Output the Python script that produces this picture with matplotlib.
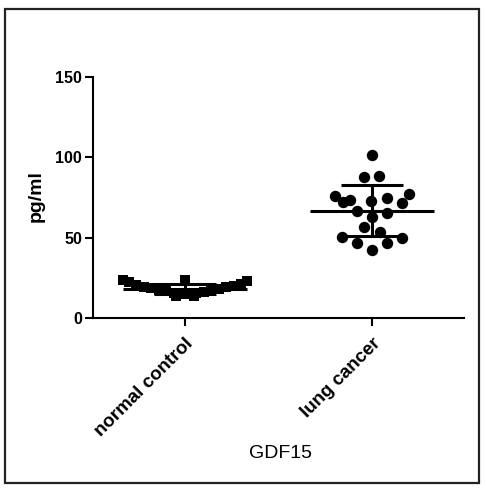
import numpy as np
import matplotlib
matplotlib.use("Agg")
import matplotlib.pyplot as plt
from matplotlib.patches import Rectangle

plt.rcParams['font.family'] = ['Liberation Sans', 'DejaVu Sans']

categories = ["normal control", "lung cancer"]
y_ticks = [0, 50, 100, 150]
y_label = "pg/ml"
x_label = "GDF15"

# normal control values (pg/ml) and horizontal jitter
nc_values = [23.5, 22.5, 20.5, 19.5, 18.5, 17.5, 16.5, 15.5, 15.0, 15.0,
             15.5, 16.0, 17.0, 18.0, 19.0, 20.0, 21.0, 23.0, 23.5, 14.0, 14.0]
nc_jitter = [-0.33, -0.30, -0.26, -0.22, -0.18, -0.14, -0.10, -0.06, -0.02, 0.02,
             0.06, 0.10, 0.14, 0.18, 0.22, 0.26, 0.30, 0.33, 0.0, -0.05, 0.05]

# lung cancer values (pg/ml) and horizontal jitter
lc_values = [101.4, 87.5, 88.4, 76.1, 72.4, 73.4, 73.0, 74.9, 77.2, 71.4,
             66.8, 65.5, 63.0, 56.8, 53.7, 50.2, 46.9, 46.5, 49.6, 42.3]
lc_jitter = [0.0, -0.041, 0.039, -0.20, -0.157, -0.116, -0.005, 0.080, 0.20, 0.159,
             -0.080, 0.080, 0.0, -0.041, 0.043, -0.162, -0.080, 0.080, 0.159, 0.0]

fig = plt.figure(figsize=(4.86, 4.92), dpi=100)
ax = fig.add_axes([93/486, 1-318/492, (464-93)/486, (318-77)/492])

groups = [(nc_values, nc_jitter, 's', 7.8), (lc_values, lc_jitter, 'o', 8.2)]
for i, (vals, jit, mk, ms) in enumerate(groups):
    v = np.array(vals)
    x = i + np.array(jit)
    ax.plot(x, v, linestyle='none', marker=mk, markersize=ms,
            color='black', markeredgewidth=0, zorder=3)
    m = v.mean()
    sd = v.std(ddof=1)
    ax.hlines(m, i - 0.33, i + 0.33, color='black', linewidth=2.2, zorder=4)
    ax.hlines([m - sd, m + sd], i - 0.166, i + 0.166, color='black', linewidth=2.2, zorder=4)
    ax.vlines(i, m - sd, m + sd, color='black', linewidth=2.2, zorder=4)

ax.set_xlim(-0.492, 1.492)
ax.set_ylim(0, 150)
ax.set_yticks(y_ticks)
ax.set_yticklabels([str(t) for t in y_ticks], fontsize=11.5, fontweight='bold')
ax.set_xticks(range(len(categories)))
ax.set_xticklabels(categories, rotation=45, ha='right', va='top',
                   rotation_mode='anchor', fontsize=13.5, fontweight='bold')
for s in ['top', 'right']:
    ax.spines[s].set_visible(False)
for s in ['left', 'bottom']:
    ax.spines[s].set_linewidth(1.5)
ax.tick_params(axis='y', direction='out', length=6, width=1.5, pad=2)
ax.tick_params(axis='x', direction='out', length=6, width=1.5, pad=6)

fig.text(36/486, 1-196/492, y_label, rotation=90, ha='center', va='center',
         fontsize=14, fontweight='bold')
fig.text(280/486, 1-453/492, x_label, ha='center', va='center', fontsize=14)

fig.add_artist(Rectangle((5/486, 1-483/492), (479-5)/486, (483-9)/492,
                         transform=fig.transFigure, fill=False,
                         edgecolor='#222222', linewidth=1.6))

fig.savefig("out.png", dpi=100)
